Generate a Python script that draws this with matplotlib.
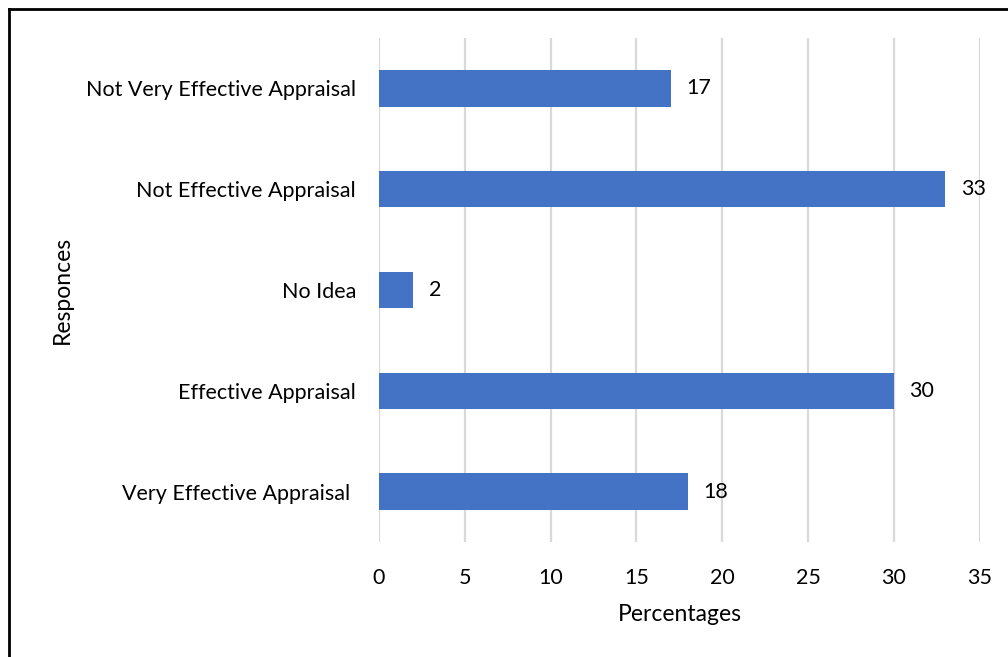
import matplotlib
matplotlib.use("Agg")
import matplotlib.pyplot as plt
from matplotlib.lines import Line2D

categories = ["Very Effective Appraisal ", "Effective Appraisal", "No Idea",
              "Not Effective Appraisal", "Not Very Effective Appraisal"]
values = [18, 30, 2, 33, 17]
xticks = [0, 5, 10, 15, 20, 25, 30, 35]

plt.rcParams["font.family"] = ["Lato", "DejaVu Sans"]

fig = plt.figure(figsize=(10.08, 6.57), dpi=100)
ax = fig.add_axes([0.376, 0.175, 0.596, 0.767])

bar_color = "#4472C4"
ax.barh(range(len(categories)), values, height=0.36, color=bar_color, zorder=3)
for i, v in enumerate(values):
    ax.text(v + 0.9, i, str(v), va="center", ha="left", fontsize=15.5, color="#000000")

ax.set_xlim(0, 35)
ax.set_ylim(-0.5, len(categories) - 0.5)
ax.set_xticks(xticks)
ax.set_yticks(range(len(categories)))
ax.set_yticklabels(categories, fontsize=15.5)
ax.tick_params(axis="x", labelsize=15.5, length=0, pad=18.5)
ax.tick_params(axis="y", length=0, pad=16.5)
ax.grid(axis="x", color="#D9D9D9", linewidth=1.6, zorder=0)
for s in ax.spines.values():
    s.set_visible(False)

ax.set_xlabel("Percentages", fontsize=16.5, labelpad=12)
fig.text(0.062, 0.559, "Responces", rotation=90, fontsize=16.5, ha="center", va="center")

# frame lines along the top and left edge of the figure
fig.add_artist(Line2D([9 / 1008, 1], [1 - 9 / 657, 1 - 9 / 657], color="black", linewidth=2,
                      transform=fig.transFigure))
fig.add_artist(Line2D([9 / 1008, 9 / 1008], [0, 1 - 9 / 657], color="black", linewidth=2,
                      transform=fig.transFigure))

fig.savefig("out.png", dpi=100, facecolor="white")
